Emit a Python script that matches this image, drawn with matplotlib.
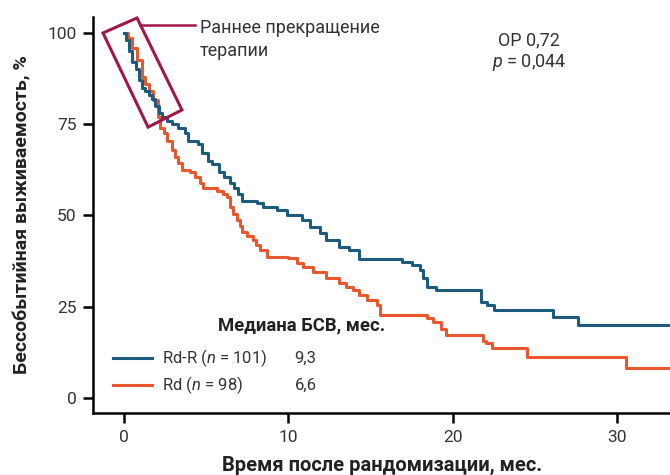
import matplotlib
matplotlib.use('Agg')
import matplotlib.pyplot as plt
from matplotlib.patches import Polygon

plt.rcParams['font.family'] = ['Roboto', 'DejaVu Sans']
plt.rcParams['mathtext.fontset'] = 'custom'
plt.rcParams['mathtext.it'] = 'Roboto:italic'
plt.rcParams['mathtext.rm'] = 'Roboto'

# Rd-R arm (months, event-free survival %)
t_rdr = [0, 0.1, 0.3, 0.5, 0.7, 0.9, 1.1, 1.3, 1.5, 1.7, 1.9, 2.1, 2.3, 2.6, 2.9,
         3.3, 3.7, 3.9, 4.5, 4.75, 5.1, 5.35, 5.8, 6.1, 6.45, 6.7, 6.95, 7.2,
         8.1, 8.45, 9.3, 9.9, 10.8, 11.3, 11.9, 12.3, 13.1, 13.7, 14.3, 16.9,
         17.5, 18.0, 18.15, 18.45, 19.0, 21.7, 22.1, 22.5, 26.1, 27.6, 33.5]
s_rdr = [100, 98, 95, 92, 90, 87, 85, 84, 83, 82, 80, 78, 77, 76, 75,
         74, 72.5, 70.5, 69.5, 67, 65, 64, 62, 60.5, 59, 57.5, 56, 54,
         53.5, 52.3, 51.4, 50, 48.8, 46.8, 45.2, 43.3, 41.4, 40.5, 38.2, 37.2,
         36.4, 35.1, 32.9, 30.4, 29.5, 26.3, 25.5, 24.0, 22.2, 20.0, 20.0]

# Rd arm
t_rd = [0, 0.25, 0.5, 0.8, 1.1, 1.3, 1.5, 1.75, 2.05, 2.2, 2.4, 2.6, 2.9, 3.1,
        3.3, 3.5, 4.0, 4.3, 4.6, 4.8, 5.65, 6.0, 6.25, 6.45, 6.65, 6.85, 7.05,
        7.2, 7.5, 7.85, 8.05, 8.25, 8.7, 10.0, 10.5, 10.9, 11.5, 12.3, 13.1,
        13.5, 13.9, 14.3, 14.75, 15.4, 15.55, 18.4, 18.8, 19.3, 19.6, 21.8,
        22.0, 22.4, 24.5, 30.5, 33.5]
s_rd = [100, 98.5, 96, 92.5, 88, 86, 84, 81.5, 77, 74, 72.5, 70.5, 68, 66,
        64.4, 62.5, 61.8, 60.5, 59, 57.5, 56.8, 56, 55, 52.3, 50.5, 48.8, 47,
        45.5, 44.5, 43.3, 41.8, 40.5, 38.5, 38.3, 37.0, 35.8, 34.5, 32.9, 31.5,
        30.5, 29.5, 28.2, 26.8, 25.5, 22.7, 22.0, 20.8, 19.0, 17.3, 15.5,
        15.0, 13.7, 11.2, 8.2, 8.2]

x_ticks = [0, 10, 20, 30]
y_ticks = [0, 25, 50, 75, 100]

blue = '#1d5b7e'
orange = '#e9572f'
crimson = '#a01848'

fig = plt.figure(figsize=(6.7, 4.75), dpi=100)
ax = fig.add_axes([0.139, 0.1305, 0.861, 0.834])

ax.step(t_rdr, s_rdr, where='post', color=blue, lw=2.2, zorder=3)
ax.step(t_rd, s_rd, where='post', color=orange, lw=2.2, zorder=2)

ax.set_xlim(-1.88, 33.2)
ax.set_ylim(-4.1, 104.4)
ax.set_xticks(x_ticks)
ax.set_yticks(y_ticks)
for s in ['top', 'right']:
    ax.spines[s].set_visible(False)
for s in ['left', 'bottom']:
    ax.spines[s].set_linewidth(1.8)
ax.tick_params(length=7, width=1.8, labelsize=12.5, labelcolor='#333333', pad=5)

ax.set_xlabel('Время после рандомизации, мес.', fontsize=14.5, fontweight='bold',
              color='#222222', labelpad=8)
ax.set_ylabel('Бессобытийная выживаемость, %', fontsize=14, fontweight='bold',
              color='#222222', labelpad=11)

# early discontinuation box
box = Polygon([(-1.28, 100.0), (0.79, 104.1), (3.52, 78.9), (1.46, 74.2)],
              closed=True, fill=False, ec=crimson, lw=2.2, clip_on=False, zorder=4)
ax.add_patch(box)
ax.plot([0.97, 4.31], [102.2, 102.2], color=crimson, lw=1.8, clip_on=False)
ax.text(4.61, 101.4, 'Раннее прекращение', fontsize=13, color='#333333',
        va='center', ha='left')
ax.text(4.61, 95.1, 'терапии', fontsize=13, color='#333333',
        va='center', ha='left')

ax.text(24.65, 98.1, 'ОР 0,72', fontsize=13, color='#333333', ha='center', va='center')
ax.text(24.65, 91.8, '$p$ = 0,044', fontsize=13, color='#333333', ha='center', va='center')

# legend
ax.text(5.71, 20.0, 'Медиана БСВ, мес.', fontsize=13.3, fontweight='bold',
        color='#222222', va='center')
ax.plot([-0.67, 1.70], [11.0, 11.0], color=blue, lw=2.2)
ax.plot([-0.67, 1.70], [3.6, 3.6], color=orange, lw=2.2)
ax.text(2.31, 11.0, 'Rd-R ($n$ = 101)', fontsize=12, color='#333333', va='center')
ax.text(2.31, 3.6, 'Rd ($n$ = 98)', fontsize=12, color='#333333', va='center')
ax.text(10.38, 11.0, '9,3', fontsize=12, color='#333333', va='center')
ax.text(10.38, 3.6, '6,6', fontsize=12, color='#333333', va='center')

fig.savefig('out.png', dpi=100)
